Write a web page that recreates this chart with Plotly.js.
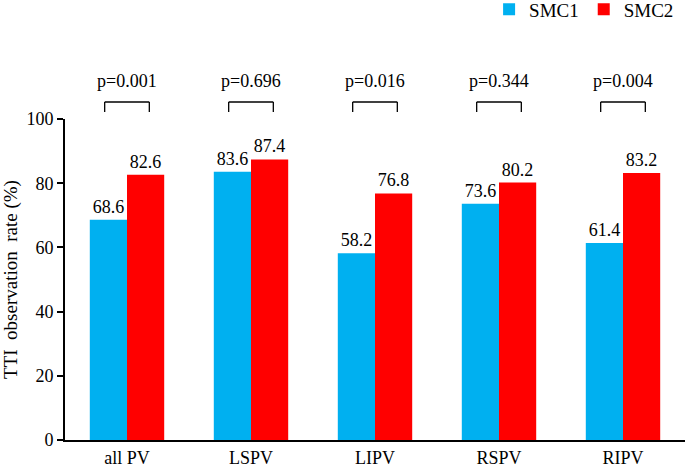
<!DOCTYPE html>
<html>
<head>
<meta charset="utf-8">
<script src="https://cdn.plot.ly/plotly-3.0.1.min.js"></script>
<style>
  html, body { margin: 0; padding: 0; background: #fff; }
  #graph { width: 685px; height: 467px; }
</style>
</head>
<body>
<div id="graph"></div>
<script>
// values
const categories = ['all PV', 'LSPV', 'LIPV', 'RSPV', 'RIPV'];
const smc1Values = [68.6, 83.6, 58.2, 73.6, 61.4];
const smc2Values = [82.6, 87.4, 76.8, 80.2, 83.2];
const pValues = ['p=0.001', 'p=0.696', 'p=0.016', 'p=0.344', 'p=0.004'];
const yTicks = [0, 20, 40, 60, 80, 100];

const serif = 'Liberation Serif, Times New Roman, serif';
const yMax = 100;

function makeBar(name, values, color) {
    return {
        x: categories,
        y: values,
        name: name,
        type: 'bar',
        marker: {color: color},
        text: values.map(v => v.toFixed(1)),
        textposition: 'outside',
        textfont: {family: serif, size: 18, color: '#000'},
        cliponaxis: false,
        hoverinfo: 'skip'
    };
}

// brackets and p-value labels sit above the axis, in paper units
function buildBrackets() {
    const shapes = [];
    const annotations = [];
    const half = 0.18;
    const top = 105.3 / yMax;
    const foot = 102.2 / yMax;
    const line = {color: '#000', width: 1.3};

    categories.forEach((cat, i) => {
        const x0 = i - half;
        const x1 = i + half;
        shapes.push({type: 'line', xref: 'x', yref: 'paper', x0: x0, x1: x1, y0: top, y1: top, line: line});
        shapes.push({type: 'line', xref: 'x', yref: 'paper', x0: x0, x1: x0, y0: top, y1: foot, line: line});
        shapes.push({type: 'line', xref: 'x', yref: 'paper', x0: x1, x1: x1, y0: top, y1: foot, line: line});
        annotations.push({
            xref: 'x', yref: 'paper',
            x: i, y: 111.8 / yMax,
            yanchor: 'middle',
            text: pValues[i],
            showarrow: false,
            font: {family: serif, size: 18, color: '#000'}
        });
    });
    return {shapes, annotations};
}

const {shapes, annotations} = buildBrackets();

const layout = {
    width: 685,
    height: 467,
    barmode: 'group',
    bargap: 0.4,
    bargroupgap: 0,
    paper_bgcolor: '#fff',
    plot_bgcolor: '#fff',
    font: {family: serif, size: 18, color: '#000'},
    margin: {l: 65, r: 0, t: 119, b: 27, pad: 0},
    showlegend: true,
    legend: {
        orientation: 'h',
        xref: 'container',
        yref: 'container',
        x: 0.714,
        xanchor: 'left',
        y: 0.98,
        yanchor: 'middle',
        font: {family: serif, size: 19, color: '#000'},
        tracegroupgap: 0
    },
    xaxis: {
        type: 'category',
        showline: true,
        linecolor: '#000',
        linewidth: 2,
        ticks: '',
        showgrid: false,
        automargin: false,
        ticklabelstandoff: 0,
        tickfont: {family: serif, size: 18, color: '#000'}
    },
    yaxis: {
        range: [0, yMax],
        tickvals: yTicks,
        ticktext: yTicks.map(String),
        showline: true,
        linecolor: '#000',
        linewidth: 2,
        ticks: 'outside',
        ticklen: 6,
        tickwidth: 2,
        tickcolor: '#000',
        showgrid: false,
        zeroline: false,
        automargin: false,
        tickfont: {family: serif, size: 18, color: '#000'},
        title: {
            text: 'TTI  observation  rate (%)',
            font: {family: serif, size: 19, color: '#000'},
            standoff: 12
        }
    },
    shapes: shapes,
    annotations: annotations
};

const config = {displayModeBar: false, staticPlot: true};

Plotly.newPlot('graph', [
    makeBar('SMC1', smc1Values, '#00B0F0'),
    makeBar('SMC2', smc2Values, '#FF0000')
], layout, config);
</script>
</body>
</html>
